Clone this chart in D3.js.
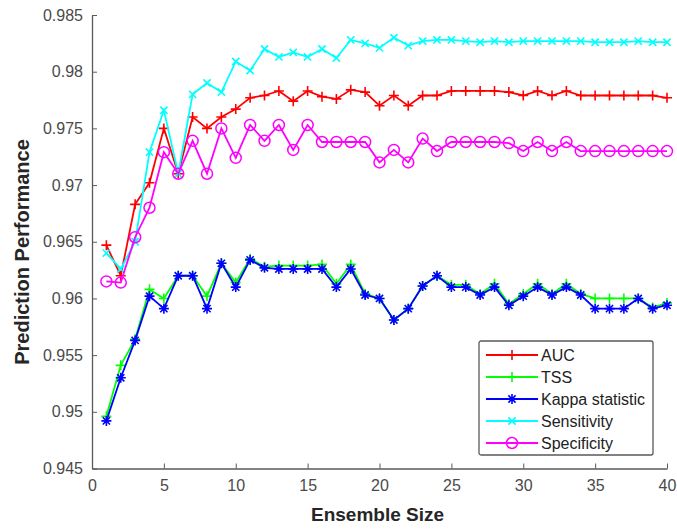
<!DOCTYPE html>
<html>
<head>
  <meta charset="utf-8">
  <script src="https://cdnjs.cloudflare.com/ajax/libs/d3/7.8.5/d3.min.js"></script>
</head>
<style>
  body { margin: 0; background: #fff; }
  text { font-family: "Liberation Sans", Arial, sans-serif; }
  .axis path, .axis line { stroke: #5a5a5a; }
  .axis text { fill: #4a4a4a; font-size: 16px; }
</style>
<body>
<svg width="677" height="530" class="perf"></svg>
<script>
  // ensemble sizes 1..40
  let sizes = d3.range(1, 41);

  let auc = [0.9647, 0.9620, 0.9683, 0.9702, 0.9750, 0.9710, 0.9760, 0.9750, 0.9760, 0.9767,
             0.9777, 0.9779, 0.9783, 0.9774, 0.9783, 0.9778, 0.9776, 0.9784, 0.9782, 0.9770,
             0.9779, 0.9770, 0.9779, 0.9779, 0.9783, 0.9783, 0.9783, 0.9783, 0.9782, 0.9779,
             0.9783, 0.9779, 0.9783, 0.9779, 0.9779, 0.9779, 0.9779, 0.9779, 0.9779, 0.9777];

  let tss = [0.9496, 0.9541, 0.9564, 0.9608, 0.9600, 0.9620, 0.9620, 0.9602, 0.9631, 0.9614,
             0.9635, 0.9628, 0.9629, 0.9629, 0.9629, 0.9630, 0.9613, 0.9630, 0.9604, 0.9600,
             0.9581, 0.9591, 0.9611, 0.9620, 0.9612, 0.9612, 0.9604, 0.9613, 0.9595, 0.9604,
             0.9613, 0.9604, 0.9613, 0.9604, 0.9600, 0.9600, 0.9600, 0.9600, 0.9592, 0.9596];

  let kappa = [0.9492, 0.9530, 0.9563, 0.9602, 0.9591, 0.9620, 0.9620, 0.9591, 0.9631, 0.9610,
               0.9634, 0.9627, 0.9626, 0.9626, 0.9626, 0.9626, 0.9610, 0.9626, 0.9603, 0.9600,
               0.9581, 0.9591, 0.9611, 0.9620, 0.9610, 0.9610, 0.9603, 0.9610, 0.9594, 0.9602,
               0.9610, 0.9603, 0.9610, 0.9603, 0.9591, 0.9591, 0.9591, 0.9600, 0.9591, 0.9594];

  let sensitivity = [0.9640, 0.9626, 0.9650, 0.9729, 0.9766, 0.9710, 0.9780, 0.9790, 0.9782, 0.9809,
                     0.9801, 0.9820, 0.9813, 0.9817, 0.9813, 0.9820, 0.9812, 0.9828, 0.9825, 0.9821,
                     0.9830, 0.9823, 0.9827, 0.9828, 0.9828, 0.9827, 0.9826, 0.9827, 0.9826, 0.9827,
                     0.9827, 0.9827, 0.9827, 0.9827, 0.9826, 0.9826, 0.9826, 0.9827, 0.9826, 0.9826];

  let specificity = [0.9615, 0.9614, 0.9654, 0.9680, 0.9729, 0.9710, 0.9739, 0.9710, 0.9750, 0.9724,
                     0.9753, 0.9739, 0.9753, 0.9731, 0.9753, 0.9738, 0.9738, 0.9738, 0.9738, 0.9720,
                     0.9731, 0.9720, 0.9741, 0.9730, 0.9738, 0.9738, 0.9738, 0.9738, 0.9737, 0.9730,
                     0.9738, 0.9730, 0.9738, 0.9730, 0.9730, 0.9730, 0.9730, 0.9730, 0.9730, 0.9730];

  let xTicks = [0, 5, 10, 15, 20, 25, 30, 35, 40];
  let yTicks = [0.945, 0.95, 0.955, 0.96, 0.965, 0.97, 0.975, 0.98, 0.985];

  let series = [
    {name: "AUC", values: auc, color: "#ff0000", marker: "plus"},
    {name: "TSS", values: tss, color: "#00ff00", marker: "plus"},
    {name: "Kappa statistic", values: kappa, color: "#0000ff", marker: "star"},
    {name: "Sensitivity", values: sensitivity, color: "#00ffff", marker: "cross"},
    {name: "Specificity", values: specificity, color: "#ff00ff", marker: "circle"}
  ];

  let svg = d3.select(".perf");
  let margin = {top: 15, right: 10, bottom: 61.5, left: 92},
      width = +svg.attr("width") - margin.left - margin.right,
      height = +svg.attr("height") - margin.top - margin.bottom;

  let x = d3.scaleLinear().domain([0, 40]).range([0, width]);
  let y = d3.scaleLinear().domain([0.945, 0.985]).range([height, 0]);

  let g = svg.append("g")
      .attr("transform", "translate(" + margin.left + "," + margin.top + ")");

  // axes, ticks pointing inward like matlab
  g.append("g")
      .attr("class", "axis")
      .attr("transform", "translate(0," + height + ")")
      .call(d3.axisBottom(x).tickValues(xTicks).tickSizeInner(-5).tickSizeOuter(0).tickPadding(11))
      .call(a => a.select(".domain").attr("stroke-width", 1.3));

  g.append("g")
      .attr("class", "axis")
      .call(d3.axisLeft(y).tickValues(yTicks).tickFormat(d3.format(".3~f"))
            .tickSizeInner(-5).tickSizeOuter(0).tickPadding(9))
      .call(a => a.select(".domain").attr("stroke-width", 1.3));

  // marker shapes
  function drawMarker(sel, type, color) {
    if (type == "circle") {
      sel.append("circle").attr("r", 5.5).attr("fill", "none")
        .attr("stroke", color).attr("stroke-width", 1.5);
      return;
    }
    let s = 5, d = 3.6, p;
    if (type == "plus") p = "M" + -s + ",0H" + s + "M0," + -s + "V" + s;
    if (type == "cross") p = "M" + -d + "," + -d + "L" + d + "," + d + "M" + -d + "," + d + "L" + d + "," + -d;
    if (type == "star") p = "M" + -s + ",0H" + s + "M0," + -s + "V" + s +
        "M" + -d + "," + -d + "L" + d + "," + d + "M" + -d + "," + d + "L" + d + "," + -d;
    sel.append("path").attr("d", p).attr("fill", "none")
      .attr("stroke", color).attr("stroke-width", 1.6);
  }

  let line = d3.line()
      .x(function(d, i) { return x(sizes[i]); })
      .y(function(d) { return y(d); });

  series.forEach(function(s) {
    g.append("path")
      .datum(s.values)
      .attr("fill", "none")
      .attr("stroke", s.color)
      .attr("stroke-width", 1.8)
      .attr("d", line);

    g.selectAll(null)
      .data(s.values)
      .enter().append("g")
        .attr("transform", function(d, i) { return "translate(" + x(sizes[i]) + "," + y(d) + ")"; })
        .each(function() { drawMarker(d3.select(this), s.marker, s.color); });
  });

  // axis titles
  svg.append("text")
      .attr("x", margin.left + width / 2 - 2)
      .attr("y", 521)
      .attr("text-anchor", "middle")
      .style("font-size", "19px")
      .style("font-weight", "bold")
      .style("fill", "#262626")
      .text("Ensemble Size");

  svg.append("text")
      .attr("transform", "translate(29,252) rotate(-90)")
      .attr("text-anchor", "middle")
      .style("font-size", "20px")
      .style("font-weight", "bold")
      .style("fill", "#262626")
      .text("Prediction Performance");

  // legend
  let leg = svg.append("g").attr("transform", "translate(479,341)");
  leg.append("rect")
      .attr("width", 174).attr("height", 114)
      .attr("rx", 2)
      .attr("fill", "#fff")
      .attr("stroke", "#5a5a5a")
      .attr("stroke-width", 1.3);

  series.forEach(function(s, i) {
    let row = leg.append("g").attr("transform", "translate(0," + (14 + i * 22) + ")");
    row.append("line")
      .attr("x1", 7).attr("x2", 59)
      .attr("stroke", s.color).attr("stroke-width", 1.8);
    drawMarker(row.append("g").attr("transform", "translate(33,0)"), s.marker, s.color);
    row.append("text")
      .attr("x", 62).attr("dy", "0.35em")
      .style("font-size", "16px")
      .style("fill", "#222")
      .text(s.name);
  });
</script>
</body>
</html>
